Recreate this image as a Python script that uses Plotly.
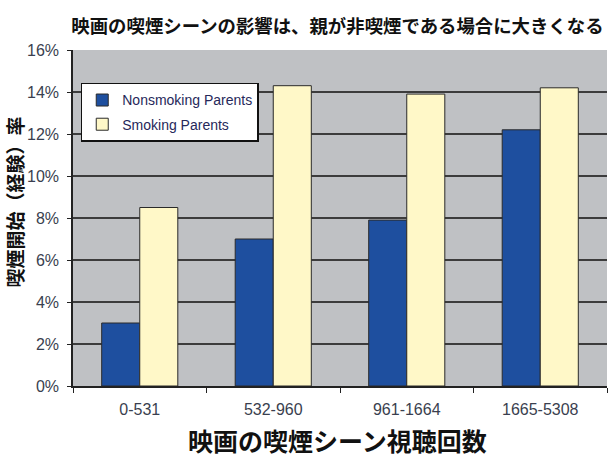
import plotly.graph_objects as go

categories = ["0-531", "532-960", "961-1664", "1665-5308"]
nonsmoking = [3.0, 7.0, 7.9, 12.2]
smoking = [8.5, 14.3, 13.9, 14.2]
series_names = ["Nonsmoking Parents", "Smoking Parents"]
y_ticks = [0, 2, 4, 6, 8, 10, 12, 14, 16]
y_ticklabels = [f"{v}%" for v in y_ticks]
title_text = "映画の喫煙シーンの影響は、親が非喫煙である場合に大きくなる"
x_title = "映画の喫煙シーン視聴回数"
y_title = "喫煙開始（経験）率"

CJK = "Noto Sans CJK JP"
NARROW = "Liberation Sans Narrow, Arial Narrow, Liberation Sans, Arial, sans-serif"
TICKCOL = "#3a3f4f"

fig = go.Figure()
fig.add_trace(go.Bar(
    x=categories, y=nonsmoking, name=series_names[0], legendgroup="a",
    marker=dict(color="#1e4f9f", line=dict(color="#2a2a2a", width=1)),
))
fig.add_trace(go.Bar(
    x=categories, y=smoking, name=series_names[1], legendgroup="b",
    marker=dict(color="#fff8c8", line=dict(color="#2a2a2a", width=1)),
))

fig.update_layout(
    width=608, height=466,
    margin=dict(l=73, r=1, t=50, b=80),
    paper_bgcolor="white", plot_bgcolor="#bfc1c4",
    barmode="group", bargap=0.43, bargroupgap=0,
    showlegend=True,
    legend=dict(
        x=0.0145, y=0.902, xanchor="left", yanchor="top",
        bgcolor="white", bordercolor="#111111", borderwidth=1.5,
        font=dict(family=NARROW, size=14, color="#26285a"),
        traceorder="grouped", tracegroupgap=3,
        entrywidth=155, itemwidth=30,
    ),
    title=dict(
        text=title_text, x=0.555, xanchor="center", y=0.942, yanchor="middle",
        font=dict(family=CJK, size=18.4, color="#111111", weight="bold"),
    ),
    xaxis=dict(
        type="category", showline=True, linecolor="#222222", linewidth=1.5,
        ticks="outside", tickson="boundaries", ticklen=5, tickcolor="#222222",
        tickfont=dict(family=NARROW, size=16, color=TICKCOL),
        ticklabelstandoff=8, showgrid=False, mirror=False,
    ),
    yaxis=dict(
        range=[0, 16], tickvals=y_ticks, ticktext=y_ticklabels,
        showline=True, linecolor="#222222", linewidth=1.5,
        ticks="outside", ticklen=4, tickcolor="#222222",
        tickfont=dict(family=NARROW, size=16, color=TICKCOL),
        ticklabelstandoff=5,
        showgrid=True, gridcolor="#3c3c3c", gridwidth=1.5,
        zeroline=False,
    ),
    annotations=[
        dict(text=x_title, xref="paper", yref="paper", x=0.495, y=-0.162,
             xanchor="center", yanchor="middle", showarrow=False,
             font=dict(family=CJK, size=25, color="#111111", weight="bold")),
        dict(text=y_title, xref="paper", yref="paper", x=-0.1086, y=0.546,
             xanchor="center", yanchor="middle", showarrow=False, textangle=-90,
             font=dict(family=CJK, size=19, color="#111111", weight="bold")),
    ],
)

fig.write_html("out.html", config={"displayModeBar": False},
               post_script="document.body.style.margin='0';")
